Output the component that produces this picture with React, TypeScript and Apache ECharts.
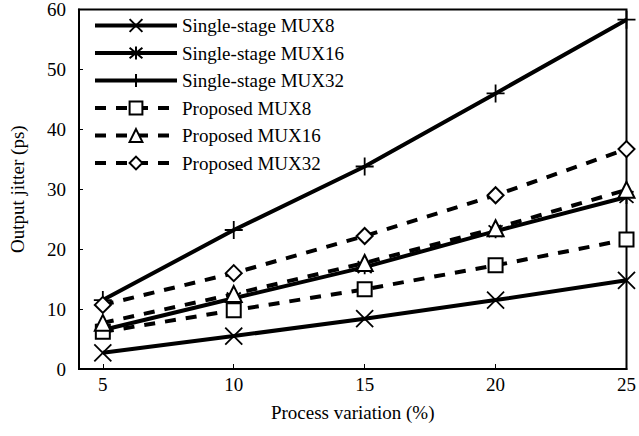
import React, { useEffect, useRef } from "react";
import * as echarts from "echarts";

const xValues = [5, 10, 15, 20, 25];
const xTicks = [5, 10, 15, 20, 25];
const ssMux8 = [2.7, 5.5, 8.4, 11.5, 14.8];
const ssMux16 = [6.5, 11.8, 17.0, 23.0, 28.7];
const ssMux32 = [11.5, 23.2, 33.8, 46.0, 58.3];
const prMux8 = [6.2, 9.8, 13.3, 17.3, 21.6];
const prMux16 = [7.7, 12.5, 17.7, 23.5, 29.9];
const prMux32 = [10.7, 16.0, 22.2, 29.0, 36.7];
const seriesNames = [
  "Single-stage MUX8",
  "Single-stage MUX16",
  "Single-stage MUX32",
  "Proposed MUX8",
  "Proposed MUX16",
  "Proposed MUX32",
];

const FONT = "'Liberation Serif', 'Times New Roman', serif";

const pairs = (ys: number[]) => xValues.map((x, i) => [x, ys[i]]);

export default function App() {
  const ref = useRef<HTMLDivElement>(null);
  useEffect(() => {
    if (!ref.current) return;
    const chart = echarts.init(ref.current, undefined, { renderer: "svg" });
    const cross = "path://M0,0 L10,10 M10,0 L0,10";
    const star = "path://M0,0 L10,10 M10,0 L0,10 M5,-1 L5,11";
    const plus = "path://M5,0 L5,10 M0,5 L10,5";
    const solid = (name: string, ys: number[], symbol: string, size: number) => ({
      name,
      type: "line",
      data: pairs(ys),
      symbol,
      symbolSize: size,
      showAllSymbol: true,
      lineStyle: { color: "#000", width: 4, type: "solid" },
      itemStyle: { color: "#000", borderColor: "#000", borderWidth: 1.8 },
      z: 2,
    });
    const dashed = (name: string, ys: number[], symbol: string, size: number) => ({
      name,
      type: "line",
      data: pairs(ys),
      symbol,
      symbolSize: size,
      showAllSymbol: true,
      lineStyle: { color: "#000", width: 4, type: [11, 10] },
      itemStyle: { color: "#fff", borderColor: "#000", borderWidth: 2 },
      z: 3,
    });
    chart.setOption({
      animation: false,
      backgroundColor: "#fff",
      textStyle: { fontFamily: FONT, color: "#000" },
      grid: { left: 77, right: 11, top: 9, bottom: 67, show: true, borderColor: "#000", borderWidth: 2 },
      legend: {
        left: 88,
        top: 11,
        orient: "vertical",
        itemWidth: 82,
        itemHeight: 16,
        itemGap: 8.5,
        data: seriesNames,
        lineStyle: { width: 4 },
        textStyle: { fontFamily: FONT, fontSize: 19, color: "#000" },
      },
      xAxis: {
        type: "value",
        min: 4.09,
        max: 25,
        name: "Process variation (%)",
        nameLocation: "middle",
        nameGap: 34,
        nameTextStyle: { fontFamily: FONT, fontSize: 19, color: "#000" },
        axisLine: { lineStyle: { color: "#000", width: 2 } },
        axisTick: { show: true, inside: true, length: 5, customValues: xTicks, lineStyle: { color: "#000", width: 1 } },
        axisLabel: { customValues: xTicks, fontFamily: FONT, fontSize: 19, color: "#000", margin: 6 },
        splitLine: { show: false },
      },
      yAxis: {
        type: "value",
        min: 0,
        max: 60,
        interval: 10,
        name: "Output jitter (ps)",
        nameLocation: "middle",
        nameGap: 52,
        nameTextStyle: { fontFamily: FONT, fontSize: 19, color: "#000" },
        axisLine: { show: true, lineStyle: { color: "#000", width: 2 } },
        axisTick: { show: true, inside: true, length: 4, lineStyle: { color: "#000", width: 1 } },
        axisLabel: { fontFamily: FONT, fontSize: 19, color: "#000", margin: 13 },
        splitLine: { show: false },
      },
      series: [
        solid(seriesNames[0], ssMux8, cross, 17),
        solid(seriesNames[1], ssMux16, star, 14),
        solid(seriesNames[2], ssMux32, plus, 18),
        dashed(seriesNames[3], prMux8, "rect", 14),
        dashed(seriesNames[4], prMux16, "triangle", 16),
        dashed(seriesNames[5], prMux32, "diamond", 16),
      ],
    });
    return () => chart.dispose();
  }, []);
  return <div ref={ref} style={{ width: 639, height: 436, position: "absolute", left: 0, top: 0 }} />;
}
